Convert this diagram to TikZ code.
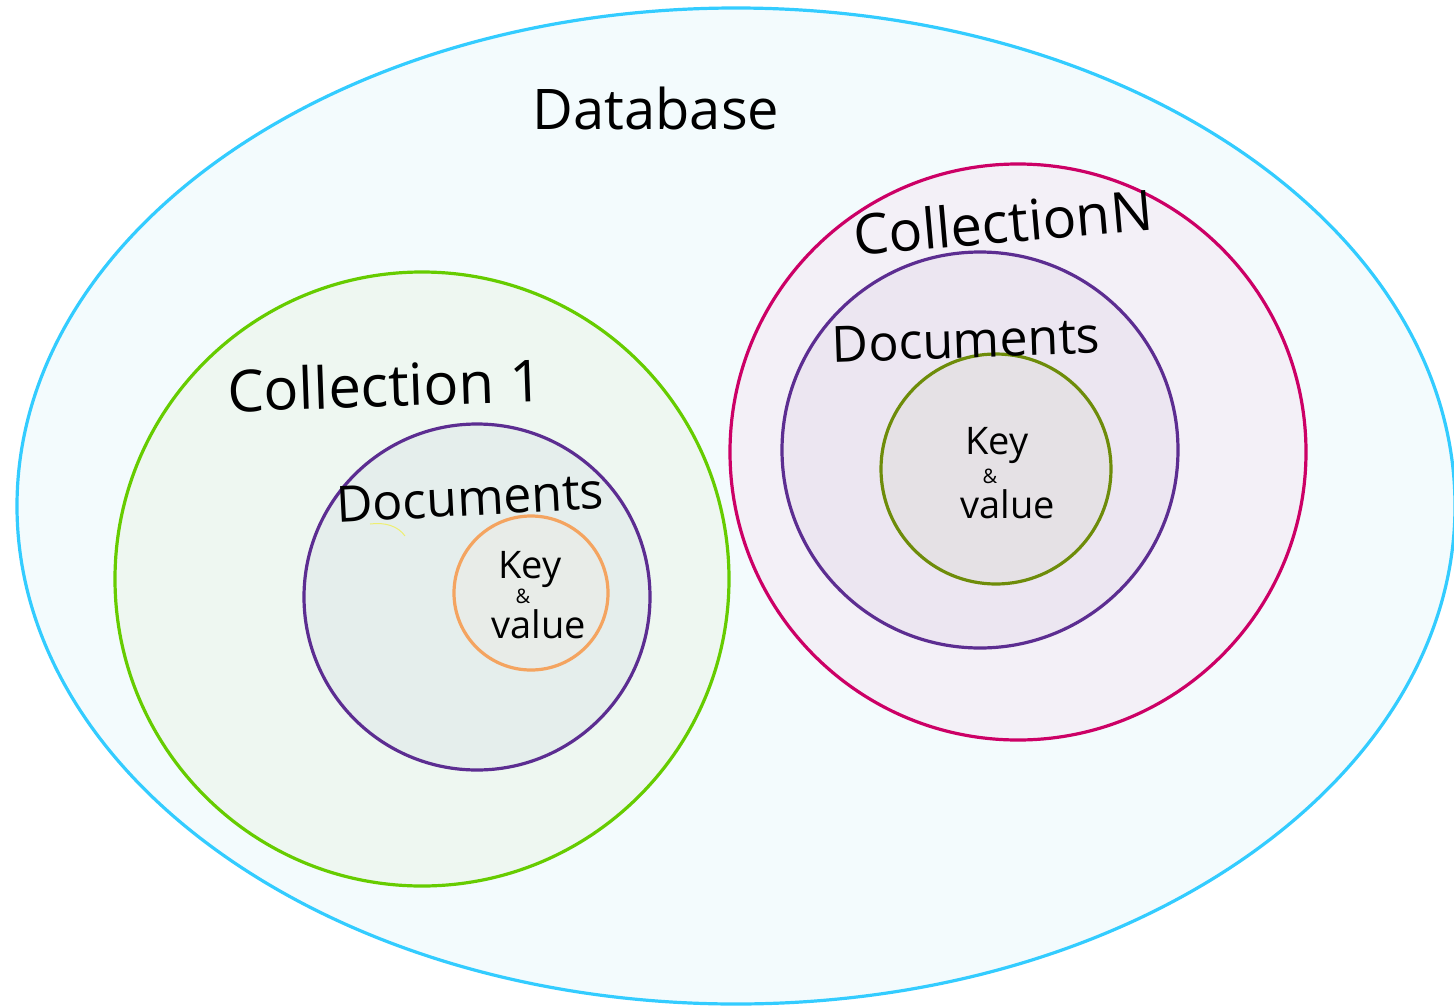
\documentclass[tikz,border=0pt]{standalone}
\usepackage{fontspec}
\setmainfont{Open Sans}
\definecolor{dbline}{HTML}{33CCFF}
\definecolor{dbfill}{HTML}{F3FBFD}
\definecolor{cAline}{HTML}{66CC00}
\definecolor{cAfill}{HTML}{EEF7F1}
\definecolor{docline}{HTML}{5C2D91}
\definecolor{dAfill}{HTML}{E5EEEC}
\definecolor{kAline}{HTML}{F4A460}
\definecolor{kAfill}{HTML}{E8ECE8}
\definecolor{cNline}{HTML}{CC0066}
\definecolor{cNfill}{HTML}{F3F0F7}
\definecolor{dNfill}{HTML}{ECE6F1}
\definecolor{kNline}{HTML}{6E8C0A}
\definecolor{kNfill}{HTML}{E5E1E5}
\definecolor{scrib}{HTML}{EEEE70}
\tikzset{
  ring/.style={circle, draw, line width=3.2pt, inner sep=0pt},
  lbl/.style={text=black, inner sep=0pt, font=\fontsize{50}{56}\selectfont},
  kv/.style={text=black, inner sep=0pt, font=\fontsize{38}{40}\selectfont},
  amp/.style={text=black, inner sep=0pt, font=\fontsize{20}{20}\selectfont},
}
\begin{document}
\begin{tikzpicture}[x=1pt,y=-1pt]
\useasboundingbox (0,0) rectangle (1454,1007);
\fill[white] (0,0) rectangle (1454,1007);
\begin{scope}
\clip (0,0) rectangle (1454,1007);
\draw[dbline, fill=dbfill, line width=3.2pt] (736,506) ellipse [x radius=719, y radius=498];
\end{scope}
\node[lbl, font=\fontsize{56}{60}\selectfont] (db) at (656,108) {Database};

\node[ring, draw=cAline, fill=cAfill, minimum size=614pt] (c1) at (422,579) {};
\node[ring, draw=docline, fill=dAfill, minimum size=346pt] (d1) at (477,597) {};
\node[ring, draw=kAline, fill=kAfill, minimum size=154pt] (k1) at (531,593) {};

\node[ring, draw=cNline, fill=cNfill, minimum size=576pt] (cN) at (1018,452) {};
\node[ring, draw=docline, fill=dNfill, minimum size=396pt] (dN) at (980,450) {};
\node[ring, draw=kNline, fill=kNfill, minimum size=230pt] (kN) at (996,469) {};

\node[lbl, font=\fontsize{58}{60}\selectfont, rotate=2] (c1t) at (385,385) {Collection 1};
\node[lbl, rotate=3] (d1t) at (470,498) {Documents};
\node[kv] (k1a) at (530,569) {Key};
\node[amp] (k1b) at (523,596) {\&};
\node[kv] (k1c) at (539,624) {value};

\node[lbl, font=\fontsize{56}{60}\selectfont, rotate=5] (cNt) at (1003,222) {CollectionN};
\node[lbl, rotate=2] (dNt) at (966,340) {Documents};
\node[kv] (kNa) at (997,445) {Key};
\node[amp] (kNb) at (990,476) {\&};
\node[kv] (kNc) at (1008,504) {value};

\draw[scrib, line width=1pt] (370,524) .. controls (385,522) and (398,526) .. (405,536);
\end{tikzpicture}
\end{document}
